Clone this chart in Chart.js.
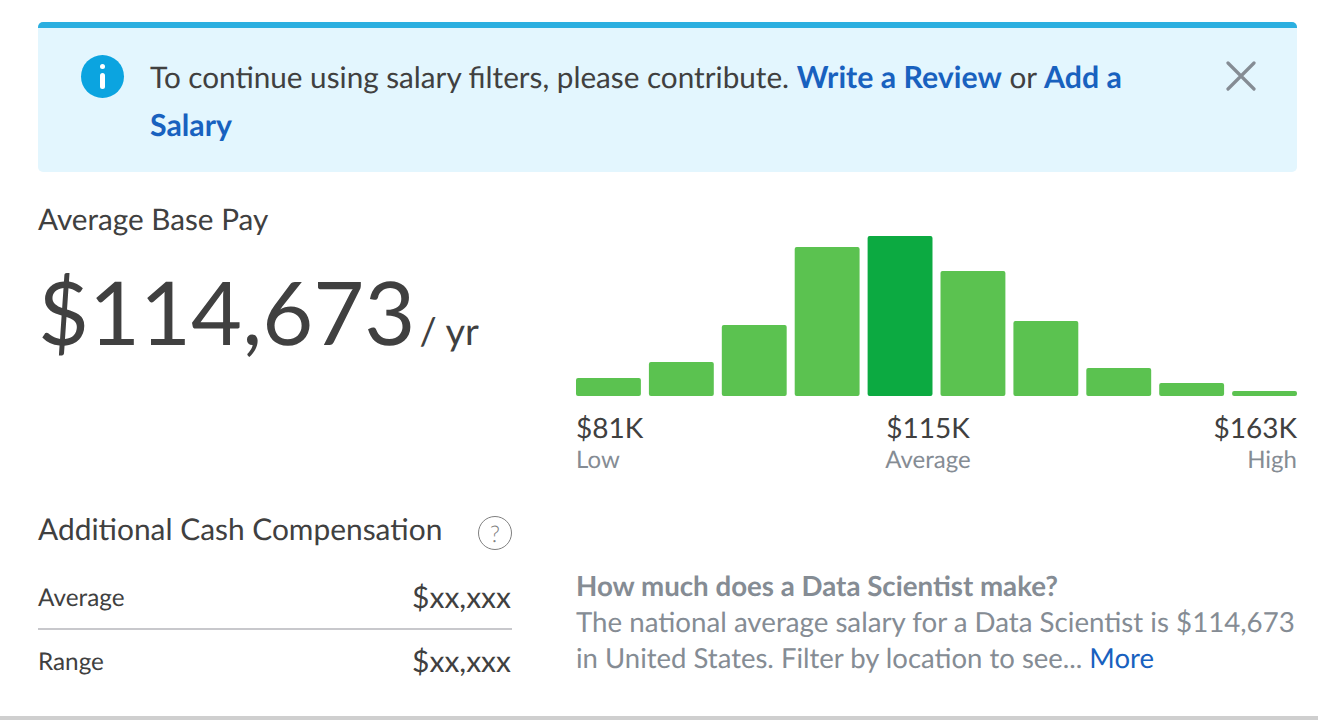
<!DOCTYPE html>
<html>
<head>
<meta charset="utf-8">
<title>Average Base Pay</title>
<script src="https://cdn.jsdelivr.net/npm/chart.js@4"></script>
<style>
  html, body { margin: 0; padding: 0; background: #fff; overflow: hidden; }
  body { width: 1318px; height: 720px; position: relative; font-family: Lato, "Open Sans", sans-serif; color: #404040; text-rendering: geometricPrecision; }
  .abs { position: absolute; white-space: nowrap; line-height: 1; }
  .right { text-align: right; }
  a { color: #1861bf; text-decoration: none; }
  a b { font-size: 30.3px; }
  #banner { position: absolute; left: 38px; top: 22px; width: 1259px; height: 150px; box-sizing: border-box; background: #e3f6fe; border-top: 6px solid #2bafe0; border-radius: 5px; }
  #info { position: absolute; left: 81px; top: 55px; width: 43px; height: 43px; border-radius: 50%; background: #0ba4e0; }
  #info::before { content: ""; position: absolute; left: 19px; top: 9px; width: 5px; height: 5px; border-radius: 50%; background: #fff; }
  #info::after { content: ""; position: absolute; left: 19px; top: 18px; width: 5px; height: 16px; border-radius: 2.5px; background: #fff; }
  #close { position: absolute; left: 1226px; top: 61px; width: 30px; height: 30px; }
  #chartBox { position: absolute; left: 571.6px; top: 226px; width: 729px; height: 170px; }
  #help { position: absolute; left: 478px; top: 516px; width: 32px; height: 32px; border: 1px solid #808080; border-radius: 50%; text-align: center; font-size: 23px; line-height: 32px; color: #808080; font-weight: 300; }
  #rule { position: absolute; left: 38px; top: 628px; width: 474px; height: 2px; background: #c8c8cc; }
  #bottom { position: absolute; left: 0; top: 716px; width: 1318px; height: 4px; background: #cfcfcf; }
</style>
</head>
<body>
<div id="banner"></div>
<div id="info"></div>
<div class="abs" style="left:150px;top:62px;font-size:29.7px">To continue using salary filters, please contribute. <a href="#"><b>Write a Review</b></a> or <a href="#"><b>Add a</b></a></div>
<div class="abs" style="left:150px;top:110px;font-size:29.7px"><a href="#"><b>Salary</b></a></div>
<svg id="close" viewBox="0 0 30 30"><path d="M2 2 L28 28 M28 2 L2 28" stroke="#858c94" stroke-width="3.2" stroke-linecap="round" fill="none"/></svg>

<div class="abs" style="left:38px;top:205px;font-size:29.7px">Average Base Pay</div>
<div class="abs" style="left:38px;top:267px;font-size:88px">$114,673</div>
<div class="abs" style="left:419.5px;top:312px;font-size:38px">/ yr</div>

<div id="chartBox"><canvas id="payChart"></canvas></div>
<div id="tickLabels"></div>

<div class="abs" style="left:38px;top:515px;font-size:29.9px">Additional Cash Compensation</div>
<div id="help">?</div>
<div class="abs" style="left:38px;top:586px;font-size:24.3px">Average</div>
<div class="abs right" style="right:807px;top:582px;font-size:30px">$xx,xxx</div>
<div id="rule"></div>
<div class="abs" style="left:38px;top:650px;font-size:24.3px">Range</div>
<div class="abs right" style="right:807px;top:646px;font-size:30px">$xx,xxx</div>

<div class="abs" style="left:576px;top:572px;font-size:27.7px;font-weight:700;color:#858c94">How much does a Data Scientist make?</div>
<div class="abs" style="left:576px;top:608px;font-size:27.7px;color:#858c94">The national average salary for a Data Scientist is $114,673</div>
<div class="abs" style="left:576px;top:644px;font-size:27.5px;color:#858c94">in United States. Filter by location to see... <a href="#">More</a></div>
<div id="bottom"></div>

<script>
// ---------- Data ----------
const bins = ["1", "2", "3", "4", "5", "6", "7", "8", "9", "10"];
const binHeights = [18, 34, 71, 149, 160, 125, 75, 28, 13, 5];
const averageBin = 4;
const tickValues = ["$81K", "$115K", "$163K"];
const tickNames = ["Low", "Average", "High"];

const BAR_COLOR = "#5bc250";
const AVERAGE_COLOR = "#0caa41";

// ---------- Tick labels ----------
const tickSlots = [
  "left:576px;text-align:left",
  "left:828px;width:200px;text-align:center",
  "right:21px;text-align:right"
];
const tickBox = document.getElementById("tickLabels");
tickValues.forEach((value, idx) => {
  const top = document.createElement("div");
  top.className = "abs";
  top.style.cssText = `${tickSlots[idx]};top:413px;font-size:28px`;
  top.textContent = value;
  tickBox.appendChild(top);
  const name = document.createElement("div");
  name.className = "abs";
  name.style.cssText = `${tickSlots[idx]};top:448px;font-size:24px;color:#858c94`;
  name.textContent = tickNames[idx];
  tickBox.appendChild(name);
});

// ---------- Histogram ----------
new Chart(document.getElementById("payChart"), {
  type: "bar",
  data: {
    labels: bins,
    datasets: [{
      data: binHeights,
      backgroundColor: bins.map((_, i) => (i === averageBin ? AVERAGE_COLOR : BAR_COLOR)),
      borderRadius: 2,
      borderSkipped: false,
      barPercentage: 1,
      categoryPercentage: 0.89
    }]
  },
  options: {
    responsive: true,
    maintainAspectRatio: false,
    animation: false,
    layout: { padding: 0 },
    plugins: { legend: { display: false }, tooltip: { enabled: false } },
    scales: {
      x: { display: false },
      y: { display: false, min: 0, max: 170 }
    }
  }
});
</script>
</body>
</html>
